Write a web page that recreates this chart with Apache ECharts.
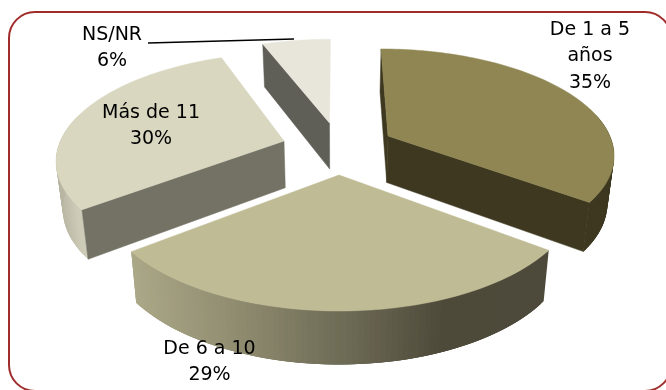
<!DOCTYPE html>
<html>
<head>
<meta charset="utf-8">
<style>html,body{margin:0;padding:0;background:#fff}#c{width:666px;height:390px}</style>
<script src="https://cdn.jsdelivr.net/npm/echarts@6/dist/echarts.min.js"></script>
</head>
<body>
<div id="c"></div>
<script>
// Data
const categories = ['De 1 a 5 años', 'De 6 a 10', 'Más de 11', 'NS/NR'];
const values = [35.2, 29.4, 29.6, 5.8];
const labelLines = [['De 1 a 5', 'años', '35%'], ['De 6 a 10', '29%'], ['Más de 11', '30%'], ['NS/NR', '6%']];

// Styles
const topColors = ['#8F8653', '#BFBB94', '#D9D7C0', '#E8E6DA'];
const cutColors = ['#3E3820', '#4E4A3B', '#737265', '#5F5F58'];
const outerStops = [
  [[0, '#3E3820'], [1, '#3E3820']],
  [[0, '#ABA888'], [0.25, '#8F8C70'], [0.5, '#6F6C57'], [0.75, '#4E4A3A'], [1, '#4E4A3B']],
  [[0, '#B8B6A3'], [0.13, '#CECCB8'], [1, '#CECCB8']],
  [[0, '#5F5F58'], [1, '#5F5F58']]
];
const FONT = '"DejaVu Sans", sans-serif';

// Layout: perspective projection of the pie plate
const view = { cx: 337, cy: 148, A: 226, B: 104.5, k: 0.16, depth: 47, shrinkX: 0.976, growY: 1.04 };
const apexes = [[388, 136], [339, 175], [284, 141], [329.5, 123]];   // exploded tip of each slice on screen
const labelAnchors = [[590, 30], [209.5, 349], [151, 113], [112, 35]];
const LINE_H = 26.5;
const drawOrder = [3, 2, 0, 1];

function toScreen(x, z) {
  const w = 1 + view.k * z;
  return [view.cx + view.A * x / w, view.cy - view.B * z / w];
}
function toWorld(p) {
  const dy = p[1] - view.cy;
  const z = -dy / (view.B + view.k * dy);
  return [(p[0] - view.cx) * (1 + view.k * z) / view.A, z];
}
function lower(p) {
  return [view.cx + (p[0] - view.cx) * view.shrinkX, view.cy + view.depth + (p[1] - view.cy) * view.growY];
}

const total = values.reduce((a, b) => a + b, 0);
const angles = [];
let cursor = 90;
values.forEach(v => { const sweep = v / total * 360; angles.push([cursor, cursor - sweep]); cursor -= sweep; });

// A cut face shows when extruding downward moves it out of the slice's top face
function cutVisible(rimPt, apex, inner) {
  const ex = rimPt[0] - apex[0], ey = rimPt[1] - apex[1];
  const sideDown = ex;                                   // cross(e, (0,1))
  const sideIn = ex * (inner[1] - apex[1]) - ey * (inner[0] - apex[0]);
  return Math.abs(sideDown) > 3 && sideDown * sideIn < 0;
}
function stopColor(stops, t) {
  for (let s = 1; s < stops.length; s++) {
    if (t <= stops[s][0]) {
      const u = (t - stops[s - 1][0]) / (stops[s][0] - stops[s - 1][0]);
      return echarts.color.lerp(Math.max(0, u), [stops[s - 1][1], stops[s][1]]);
    }
  }
  return stops[stops.length - 1][1];
}

function sliceShapes(i) {
  const o = toWorld(apexes[i]);
  const [a0, a1] = angles[i];
  const rim = [], sines = [];
  const n = 90;
  for (let j = 0; j <= n; j++) {
    const t = (a0 + (a1 - a0) * j / n) * Math.PI / 180;
    sines.push(Math.sin(t));
    rim.push(toScreen(o[0] + Math.cos(t), o[1] + Math.sin(t)));
  }
  const apex = apexes[i];
  const rimLow = rim.map(lower);
  const apexLow = lower(apex);
  const poly = (pts, fill) => ({
    type: 'polygon', shape: { points: pts }, style: { fill, stroke: fill, lineWidth: 0.5 }
  });
  const band = (pts, fill) => ({ type: 'polygon', shape: { points: pts }, style: { fill, stroke: null } });
  const xs = rim.map(p => p[0]);
  const xMin = Math.min.apply(null, xs), xMax = Math.max.apply(null, xs);
  const shapes = [];
  for (let j = 0; j < n; j++) {
    if (sines[j] > 0.2 && sines[j + 1] > 0.2) continue;    // far side is hidden under the top face
    const t = ((rim[j][0] + rim[j + 1][0]) / 2 - xMin) / (xMax - xMin);
    const e = Math.min(n, j + 3);                          // bands overlap so no seams show
    shapes.push(band([rim[j], rim[e], rimLow[e], rimLow[j]], stopColor(outerStops[i], t)));
  }
  if (cutVisible(rim[0], apex, rim[n >> 1])) shapes.push(poly([rim[0], apex, apexLow, rimLow[0]], cutColors[i]));
  if (cutVisible(rim[n], apex, rim[n >> 1])) shapes.push(poly([rim[n], apex, apexLow, rimLow[n]], cutColors[i]));
  shapes.push(poly([apex].concat(rim), topColors[i]));
  return shapes;
}

const chart = echarts.init(document.getElementById('c'), null, { renderer: 'canvas' });
chart.setOption({
  animation: false,
  backgroundColor: '#fff',
  graphic: [{
    type: 'rect', silent: true, z: 0,
    shape: { x: 9, y: 12, width: 662, height: 379, r: 26 },
    style: { fill: '#fff', stroke: '#A02C2C', lineWidth: 2 }
  }],
  series: [{
    type: 'custom',
    name: 'Antigüedad',
    coordinateSystem: 'none',
    z: 2,
    data: drawOrder.map(i => ({ name: categories[i], value: [i, values[i]] })),
    renderItem: (params, api) => ({ type: 'group', children: sliceShapes(api.value(0)) })
  }, {
    type: 'custom',
    name: 'Líder',
    coordinateSystem: 'none',
    z: 3,
    data: [[0]],
    renderItem: () => ({
      type: 'line',
      shape: { x1: 148, y1: 43, x2: 294, y2: 39 },
      style: { stroke: '#000', lineWidth: 1.6 }
    })
  }, {
    type: 'custom',
    name: 'Etiquetas',
    coordinateSystem: 'none',
    z: 4,
    data: categories.map((c, i) => ({ name: c, value: [i] })),
    renderItem: (params, api) => {
      const i = api.value(0);
      const a = labelAnchors[i];
      return {
        type: 'group',
        children: labelLines[i].map((t, j) => ({
          type: 'text',
          x: a[0], y: a[1] + j * LINE_H,
          style: { text: t, fill: '#000', font: '19px ' + FONT, align: 'center', verticalAlign: 'middle' }
        }))
      };
    }
  }]
});
</script>
</body>
</html>
